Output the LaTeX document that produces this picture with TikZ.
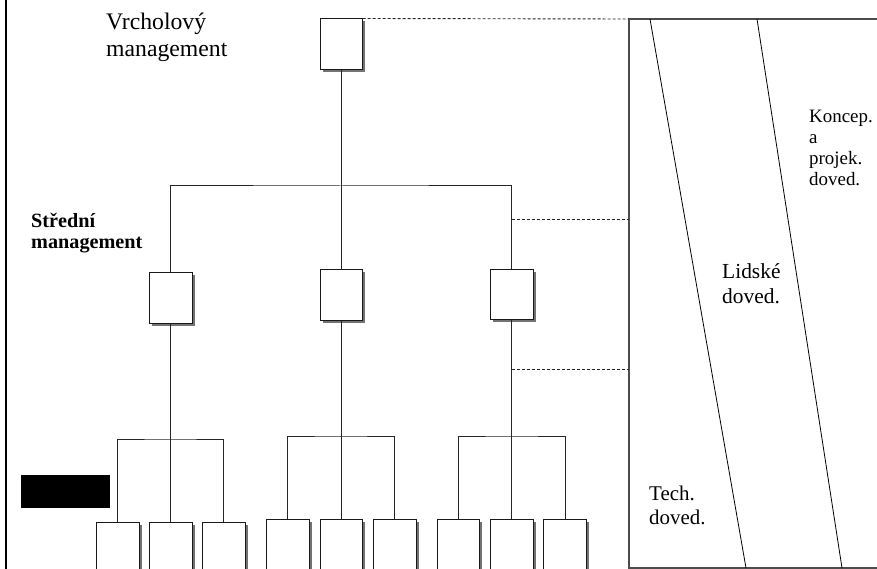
\documentclass[tikz,border=0pt]{standalone}
\usepackage{fontspec}
\setmainfont{Liberation Serif}
\usetikzlibrary{shadows}
\begin{document}
\begin{tikzpicture}[x=1bp,y=-1bp,
  orgbox/.style={draw=black!90, fill=white, line width=1bp, inner sep=0pt,
    minimum width=43bp, minimum height=51bp,
    drop shadow={shadow xshift=2.5bp, shadow yshift=-2.5bp, fill=black!55, opacity=1}},
  link/.style={draw=black!85, line width=1bp},
  guide/.style={draw=black!85, line width=0.9bp, dash pattern=on 3bp off 2bp},
  frame/.style={draw=black!70, line width=1.1bp},
  slant/.style={draw=black, line width=0.8bp},
  lbl/.style={anchor=base west, inner sep=0pt},
]
\useasboundingbox (0,0) rectangle (877,569);
\clip (0,0) rectangle (877,569);

% left margin rule
\draw[line width=2.5bp] (6,-2) -- (6,572);

% top level
\node[orgbox, minimum width=42bp] (top) at (341,44.5) {};

% middle level
\node[orgbox] (m1) at (170.5,297.5) {};
\node[orgbox, minimum width=42bp] (m2) at (341,294.5) {};
\node[orgbox, minimum height=50bp] (m3) at (511.5,294) {};

% lower level
\node[orgbox] (a1) at (117.5,547.5) {};
\node[orgbox] (a2) at (170.5,547.5) {};
\node[orgbox] (a3) at (223.5,547.5) {};
\node[orgbox] (b1) at (287.5,544.5) {};
\node[orgbox, minimum width=42bp] (b2) at (341,544.5) {};
\node[orgbox] (b3) at (394.5,544.5) {};
\node[orgbox, minimum width=42bp] (c1) at (458,544.5) {};
\node[orgbox] (c2) at (511.5,544.5) {};
\node[orgbox] (c3) at (565,544.5) {};

% connectors: top -> middle
\coordinate (busTop) at (341,186);
\draw[link] (top.south) -- (m2.north);
\draw[link] (m1.north) |- (busTop) -| (m3.north);

% connectors: middle -> lower
\coordinate (busA) at (170.5,439);
\coordinate (busB) at (341,436);
\coordinate (busC) at (511.5,436);
\draw[link] (m1.south) -- (a2.north);
\draw[link] (a1.north) |- (busA) -| (a3.north);
\draw[link] (m2.south) -- (b2.north);
\draw[link] (b1.north) |- (busB) -| (b3.north);
\draw[link] (m3.south) -- (c2.north);
\draw[link] (c1.north) |- (busC) -| (c3.north);

% skills panel
\coordinate (pTL) at (629,19);
\coordinate (pBL) at (629,568);
\coordinate (pTR) at (880,19);
\coordinate (pBR) at (880,568);
\draw[frame] (pTR) -- (pTL) -- (pBL) -- (pBR);
\coordinate (s1t) at (650,19);
\coordinate (s1b) at (746,568);
\coordinate (s2t) at (757,19);
\coordinate (s2b) at (842,568);
\draw[slant] (s1t) -- (s1b);
\draw[slant] (s2t) -- (s2b);

% level guides
\coordinate (g1) at (629,219);
\coordinate (g2) at (629,369);
\draw[guide] (top.north east) -- (pTL);
\draw[guide] (g1 -| m3) -- (g1);
\draw[guide] (g2 -| m3) -- (g2);

% black bar
\fill (21,475) rectangle (110,508);

% labels
\begin{scope}[font=\fontsize{23.8}{27}\selectfont]
\node[lbl] (t1) at (106,30) {Vrcholový};
\node[lbl] (t2) at (106,57) {management};
\end{scope}
\begin{scope}[font=\fontsize{20.3}{22}\bfseries]
\node[lbl] (t3) at (31,228) {Střední};
\node[lbl] (t4) at (31,249) {management};
\end{scope}
\begin{scope}[font=\fontsize{19}{21}\selectfont]
\node[lbl] (k1) at (809,122.5) {Koncep.};
\node[lbl] (k2) at (809,143.5) {a};
\node[lbl] (k3) at (809,164.5) {projek.};
\node[lbl] (k4) at (809,185.5) {doved.};
\end{scope}
\begin{scope}[font=\fontsize{21.5}{25}\selectfont]
\node[lbl] (l1) at (722,278) {Lidské};
\node[lbl] (l2) at (722,303) {doved.};
\end{scope}
\begin{scope}[font=\fontsize{21}{24}\selectfont]
\node[lbl] (h1) at (649,500) {Tech.};
\node[lbl] (h2) at (649,524) {doved.};
\end{scope}
\end{tikzpicture}
\end{document}
